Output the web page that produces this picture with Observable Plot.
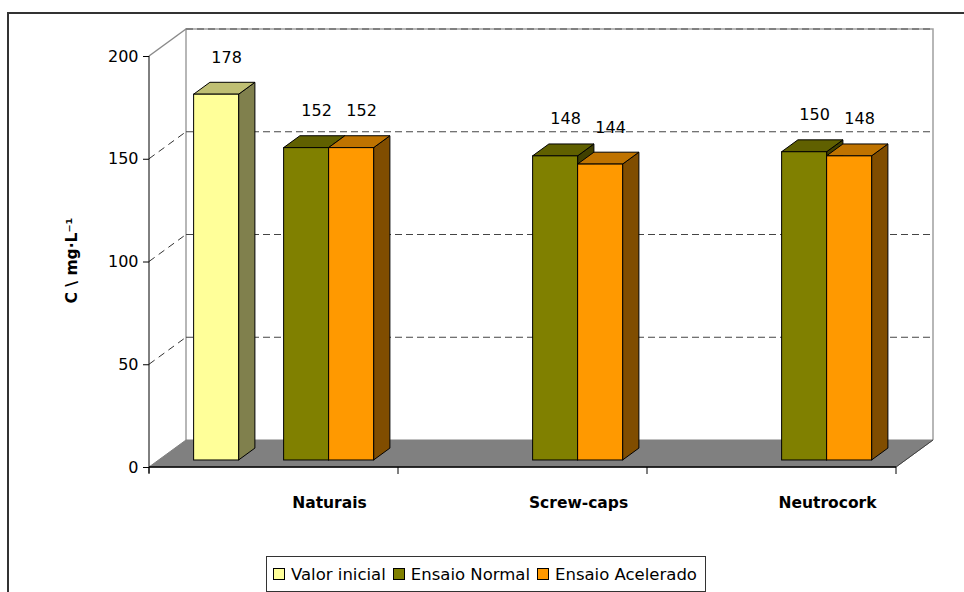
<!DOCTYPE html>
<html>
<head>
<meta charset="utf-8">
<script src="https://cdn.jsdelivr.net/npm/d3@7"></script>
<script src="https://cdn.jsdelivr.net/npm/@observablehq/plot@0.6"></script>
<style>
  body { margin: 0; background: #fff; }
  #wrap { position: relative; width: 964px; height: 592px; overflow: hidden; font-family: "DejaVu Sans", sans-serif; }
  #wrap svg { display: block; }
  #border { position: absolute; left: 7px; top: 12px; width: 2000px; height: 2000px;
            border-left: 2px solid #333; border-top: 2px solid #333; pointer-events: none; }
  #legend { display: inline-flex; align-items: center; margin: 4px 0 0 266px; height: 34px;
            padding: 0 8px 0 6px; border: 1px solid #333; font-size: 16.5px; color: #000; white-space: nowrap; }
  #legend .sw { display: inline-block; width: 10px; height: 10px; border: 1px solid #000; margin-right: 6px; }
  #legend .item { display: inline-flex; align-items: center; margin-right: 7px; }
  #legend .item:last-child { margin-right: 0; }
</style>
</head>
<body>
<div id="wrap">
  <div id="chart"></div>
  <div id="legend"></div>
  <div id="border"></div>
</div>
<script>
// ---- data ----
const categories = ["Naturais", "Screw-caps", "Neutrocork"];
const series = ["Valor inicial", "Ensaio Normal", "Ensaio Acelerado"];
const valorInicial = [178, null, null];
const ensaioNormal = [152, 148, 150];
const ensaioAcelerado = [152, 144, 148];
const yTicks = [0, 50, 100, 150, 200];
const yTitle = "C \\ mg·L⁻¹";

// ---- colours: front face, top face, side face ----
const frontColors = ["#FFFF99", "#808000", "#FF9900"];
const topColors = ["#BFBF73", "#606000", "#BF7300"];
const sideColors = ["#80804D", "#404000", "#804D00"];

// ---- 3D layout ----
const DX = 37, DY = -27;             // depth of the floor, in pixels
const NEAR = 0.26, FAR = 0.70;       // bar front / back as a fraction of that depth
const SLOTS = 4;                     // slots per cluster (slot 1 is left empty)
const slotOf = [0, 2, 3];
const BAR_W = 45;

const W = 964, H = 552;
const mL = 149, mR = 68, mT = 56, mB = 85;
const step = (W - mL - mR) / categories.length;
const padIn = 1 - (SLOTS * BAR_W) / step;

const seriesValues = [valorInicial, ensaioNormal, ensaioAcelerado];
const rows = [];
categories.forEach((c, i) => {
  series.forEach((s, k) => {
    const v = seriesValues[k][i];
    if (v != null) rows.push({category: c, series: s, value: v, k});
  });
});

// floor, walls, gridlines and the front axis line
function wallsAndFloor(index, scales, values, dim) {
  const {y} = scales;
  const L = dim.marginLeft, R = dim.width - dim.marginRight;
  const y0 = y(0), yMax = y(d3.max(yTicks));
  const g = d3.create("svg:g").attr("fill", "none");
  // back wall outline
  g.append("path")
    .attr("d", `M${L + DX},${y0 + DY}V${yMax + DY}H${R + DX}V${y0 + DY}`)
    .attr("stroke", "#a0a0a0").attr("stroke-width", 1.5);
  g.append("line")
    .attr("x1", L + DX).attr("x2", R + DX).attr("y1", yMax + DY).attr("y2", yMax + DY)
    .attr("stroke", "#707070").attr("stroke-width", 1.5).attr("stroke-dasharray", "7,4");
  // connector from the top of the front axis to the back wall
  g.append("line")
    .attr("x1", L).attr("y1", yMax).attr("x2", L + DX).attr("y2", yMax + DY)
    .attr("stroke", "#8a8a8a").attr("stroke-width", 1.5);
  // dashed gridlines: along the left side and across the back wall
  for (const v of yTicks.filter(v => v > 0 && v < d3.max(yTicks))) {
    g.append("line")
      .attr("x1", L).attr("y1", y(v)).attr("x2", L + DX).attr("y2", y(v) + DY)
      .attr("stroke", "#333").attr("stroke-dasharray", "7,5");
    g.append("line")
      .attr("x1", L + DX).attr("x2", R + DX).attr("y1", y(v) + DY).attr("y2", y(v) + DY)
      .attr("stroke", "#444").attr("stroke-dasharray", "7,4");
  }
  // floor
  g.append("path")
    .attr("d", `M${L},${y0}H${R}L${R + DX},${y0 + DY}H${L + DX}Z`)
    .attr("fill", "#808080").attr("stroke", "#808080");
  g.append("line")
    .attr("x1", R).attr("y1", y0).attr("x2", R + DX).attr("y2", y0 + DY)
    .attr("stroke", "#404040");
  // front axis line, baseline and category boundary ticks
  g.append("line").attr("x1", L).attr("x2", L).attr("y1", yMax).attr("y2", y0 + 6).attr("stroke", "#000");
  g.append("line").attr("x1", L).attr("x2", R).attr("y1", y0).attr("y2", y0).attr("stroke", "#000").attr("stroke-width", 1.5);
  for (let i = 0; i <= categories.length; ++i) {
    const bx = L + i * (R - L) / categories.length;
    g.append("line").attr("x1", bx).attr("x2", bx).attr("y1", y0).attr("y2", y0 + 7).attr("stroke", "#000");
  }
  return g.node();
}

// side and top faces of each column
function columnDepth(index, scales, values, dim) {
  const {x, y} = scales;
  const sw = x.bandwidth() / SLOTS;
  const fx = DX * NEAR, fy = DY * NEAR;
  const bx = DX * (FAR - NEAR), by = DY * (FAR - NEAR);
  const g = d3.create("svg:g").attr("stroke", "#000").attr("stroke-linejoin", "round");
  for (const d of rows) {
    const x0 = x(d.category) + slotOf[d.k] * sw + fx, x1 = x0 + sw;
    const yt = y(d.value) + fy, yb = y(0) + fy;
    g.append("path")
      .attr("d", `M${x1},${yt}L${x1 + bx},${yt + by}V${yb + by}L${x1},${yb}Z`)
      .attr("fill", sideColors[d.k]);
    g.append("path")
      .attr("d", `M${x0},${yt}H${x1}L${x1 + bx},${yt + by}H${x0 + bx}Z`)
      .attr("fill", topColors[d.k]);
  }
  return g.node();
}

const fronts = series.map((s, k) => Plot.barY(rows.filter(d => d.k === k), {
  x: "category", y: "value",
  fill: frontColors[k], stroke: "#000", strokeWidth: 1,
  insetLeft: slotOf[k] * BAR_W, insetRight: (SLOTS - 1 - slotOf[k]) * BAR_W,
  dx: DX * NEAR, dy: DY * NEAR
}));

const labels = series.map((s, k) => Plot.text(rows.filter(d => d.k === k), {
  x: "category", y: "value", text: d => String(d.value),
  dx: -SLOTS * BAR_W / 2 + slotOf[k] * BAR_W + BAR_W / 2 + DX * NEAR + 10,
  dy: DY * NEAR - 37,
  fill: "#000"
}));

const chart = Plot.plot({
  width: W, height: H,
  marginLeft: mL, marginRight: mR, marginTop: mT, marginBottom: mB,
  style: {fontFamily: "DejaVu Sans, sans-serif", fontSize: "16px", background: "transparent", color: "#000"},
  x: {domain: categories, paddingInner: padIn, paddingOuter: padIn / 2, axis: null},
  y: {domain: [0, 200], ticks: yTicks, tickSize: 6, tickPadding: 5, label: null},
  marks: [
    wallsAndFloor,
    columnDepth,
    ...fronts,
    ...labels,
    Plot.text(categories, {x: d => d, frameAnchor: "bottom", dy: 40, dx: 55, fontWeight: "bold", fontSize: 15.5}),
    Plot.text([yTitle], {frameAnchor: "left", textAnchor: "middle", dx: -77, dy: -1.5, rotate: -90, fontWeight: "bold", fontSize: 15.5})
  ]
});
document.getElementById("chart").appendChild(chart);

// legend
const legend = d3.select("#legend");
series.forEach((s, k) => {
  const item = legend.append("span").attr("class", "item");
  item.append("span").attr("class", "sw").style("background", frontColors[k]);
  item.append("span").text(s);
});
</script>
</body>
</html>
